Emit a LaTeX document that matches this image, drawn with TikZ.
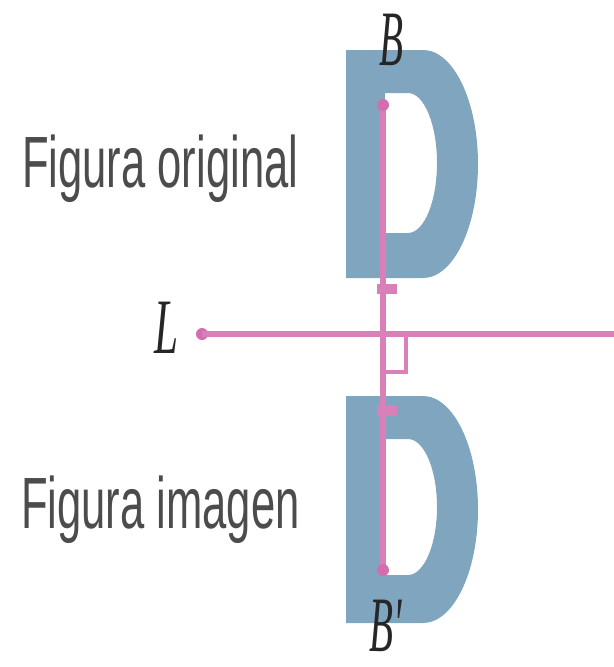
\documentclass[tikz,border=0pt]{standalone}
\usepackage{fontspec}
\newfontfamily\figfont{Liberation Sans}
\newfontfamily\letterfont{Liberation Serif}
\usepackage{tikz}
\usetikzlibrary{positioning, calc}
\definecolor{dblue}{HTML}{80A6BF}
\definecolor{refpink}{HTML}{D980B9}
\definecolor{dotpink}{HTML}{D46CB0}

\begin{document}
\begin{tikzpicture}[x=0.03cm, y=-0.03cm,
      letter/.style={inner sep=0pt, anchor=base, xscale=0.5, text=black!85, text depth=0pt,
        font=\letterfont\itshape\fontsize{67}{67}\selectfont},
      figtext/.style={inner sep=0pt, anchor=base west, xscale=0.6, text=black!70,
        font=\figfont\fontsize{62}{62}\selectfont},
      dshape/.style={fill=dblue, even odd rule},
      axisline/.style={refpink, line width=4.5},
      tickmark/.style={refpink, line width=8},
      dot/.style={circle, fill=dotpink, inner sep=0pt, minimum size=12*0.03cm}
    ]
      \useasboundingbox (0,0) rectangle (614,667);

      % original figure
      \fill[dshape] (346,50) -- (423,50) .. controls (453.4,50) and (478,101) .. (478,164)
        .. controls (478,227) and (453.4,278) .. (423,278) -- (346,278) -- cycle
        (385,93) -- (408,93) .. controls (424,93) and (437,124.3) .. (437,163)
        .. controls (437,201.7) and (424,233) .. (408,233) -- (385,233) -- cycle;
      % image figure
      \fill[dshape] (346,396) -- (423,396) .. controls (453.4,396) and (478,446.8) .. (478,509.5)
        .. controls (478,572.2) and (453.4,623) .. (423,623) -- (346,623) -- cycle
        (385,439) -- (408,439) .. controls (424,439) and (437,469.4) .. (437,507)
        .. controls (437,544.6) and (424,575) .. (408,575) -- (385,575) -- cycle;

      \coordinate (P) at (383,105);
      \coordinate (Pi) at (383,570);
      \coordinate (M) at (383,334);
      \coordinate (Lend) at (614,334);
      \node[dot] (Ldot) at (202,334) {};

      \draw[axisline] (Ldot.center) -- (Lend);
      \draw[axisline] (P) -- (Pi);
      \draw[tickmark] (377,289) -- (397,289);
      \draw[tickmark] (377,411) -- (397,411);
      \draw[refpink, line width=3] ($(M)+(23,0)$) -- ($(M)+(23,38)$) -- ($(M)+(0,38)$);

      \node[dot] (Bdot) at (P) {};
      \node[dot] (Bidot) at (Pi) {};

      \node[letter] (B) at (391,65) {B};
      \node[letter] (Bi) at (386,651) {B'};
      \node[letter, xscale=1.1] (L) at (167,353) {L};

      \node[figtext] (orig) at (22,187) {Figura original};
      \node[figtext] (imag) at (21,528) {Figura imagen};
    \end{tikzpicture}
\end{document}
